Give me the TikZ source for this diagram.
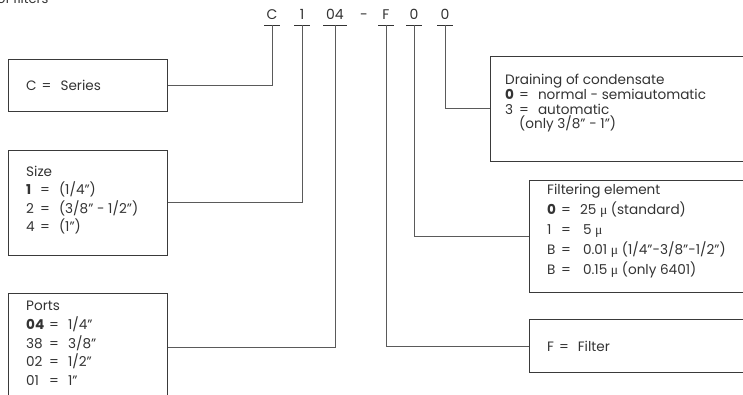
\documentclass[tikz,border=0pt]{standalone}
\usepackage{fontspec}
\setmainfont{Poppins}
\newfontfamily\mufont{Liberation Serif}
\definecolor{ink}{HTML}{333333}
\definecolor{boxline}{HTML}{3A3A3A}
\definecolor{connline}{HTML}{5A5A5A}
\newcommand{\mymu}{{\mufont μ}}
\newcommand{\eq}{\hspace{5pt}=\hspace{9pt}}
\newcommand{\lb}[2][9pt]{\makebox[#1][l]{#2}}
\begin{document}
\begin{tikzpicture}[x=1pt,y=-1pt,
  box/.style={draw=boxline,line width=0.9pt,anchor=north west,inner sep=0pt},
  txt/.style={anchor=north west,align=left,inner sep=0pt,text=ink},
  code/.style={anchor=base,inner sep=0pt,text=ink,font=\fontsize{14}{16}\selectfont},
  uline/.style={draw=ink,line width=0.8pt},
  conn/.style={draw=connline,line width=0.9pt}]
\useasboundingbox (0,0) rectangle (743,395);
\clip (0,0) rectangle (743,395);
% title (cut off)
\node[anchor=base west,inner sep=0pt,text=ink,font=\fontsize{13}{15}\selectfont] (title) at (-3,4) {of filters};
% code letters
\node[code] (lC) at (272,20) {C};
\node[code] (l1) at (302,20) {1};
\node[code] (l04) at (335,20) {04};
\node[code] (ldash) at (364,20) {-};
\node[code] (lF) at (386,20) {F};
\node[code] (l0a) at (414,20) {0};
\node[code] (l0b) at (445,20) {0};
\coordinate (uC) at (272,25);
\coordinate (u1) at (302,25);
\coordinate (u04) at (335,25);
\coordinate (uF) at (386,25);
\coordinate (u0a) at (414,25);
\coordinate (u0b) at (445,25);
\foreach \u/\w in {uC/8,u1/8,u0a/8,u0b/8,uF/8,u04/12}
  \draw[uline] ([xshift=-\w pt]\u) -- ([xshift=\w pt]\u);
% boxes
\node[box,minimum width=159pt,minimum height=52pt] (series) at (8,59) {};
\node[box,minimum width=159pt,minimum height=105pt] (size) at (8,150) {};
\node[box,minimum width=159pt,minimum height=108pt] (ports) at (8,293) {};
\node[box,minimum width=260pt,minimum height=105pt] (drain) at (490,56) {};
\node[box,minimum width=240pt,minimum height=112pt] (filt) at (529,180) {};
\node[box,minimum width=240pt,minimum height=53pt] (filter) at (529,319) {};
% texts
\node[txt,anchor=west,font=\fontsize{13.6}{15}\selectfont] (tseries) at (26,85) {C\eq Series};
\node[txt,font=\fontsize{13.6}{18.3}\selectfont] (tsize) at (26,166) {Size\\\lb{\textbf{1}}\eq(1/4”)\\\lb{2}\eq(3/8” - 1/2”)\\\lb{4}\eq(1”)};
\node[txt,font=\fontsize{13.6}{18.7}\selectfont] (tports) at (26,301) {Ports\\\lb[18pt]{\textbf{04}}\eq1/4”\\\lb[18pt]{38}\eq3/8”\\\lb[18pt]{02}\eq1/2”\\\lb[18pt]{01}\eq1”};
\node[txt,font=\fontsize{13.6}{14.8}\selectfont] (tdrain) at (505,74) {Draining of condensate\\\lb{\textbf{0}}\eq normal - semiautomatic\\\lb{3}\eq automatic\\\hbox{\kern14pt(only 3/8” - 1”)}};
\node[txt,font=\fontsize{13.6}{20}\selectfont] (tfilt) at (547,184) {Filtering element\\\lb{\textbf{0}}\eq 25 \mymu{} (standard)\\\lb{1}\eq\hspace{3pt}5 \mymu\\\lb{B}\eq\hspace{3pt}0.01 \mymu{} (1/4”-3/8”-1/2”)\\\lb{B}\eq\hspace{3pt}0.15 \mymu{} (only 6401)};
\node[txt,anchor=west,font=\fontsize{13.6}{15}\selectfont] (tfilter) at (547,346) {F\eq Filter};
% connectors
\draw[conn] (uC) |- (series.east);
\draw[conn] (u1) |- (size.east);
\draw[conn] (u04) |- (ports.east);
\draw[conn] (uF) |- (filter.west);
\draw[conn] (u0a) |- (filt.west);
\draw[conn] (u0b) |- (drain.west);
\end{tikzpicture}
\end{document}
